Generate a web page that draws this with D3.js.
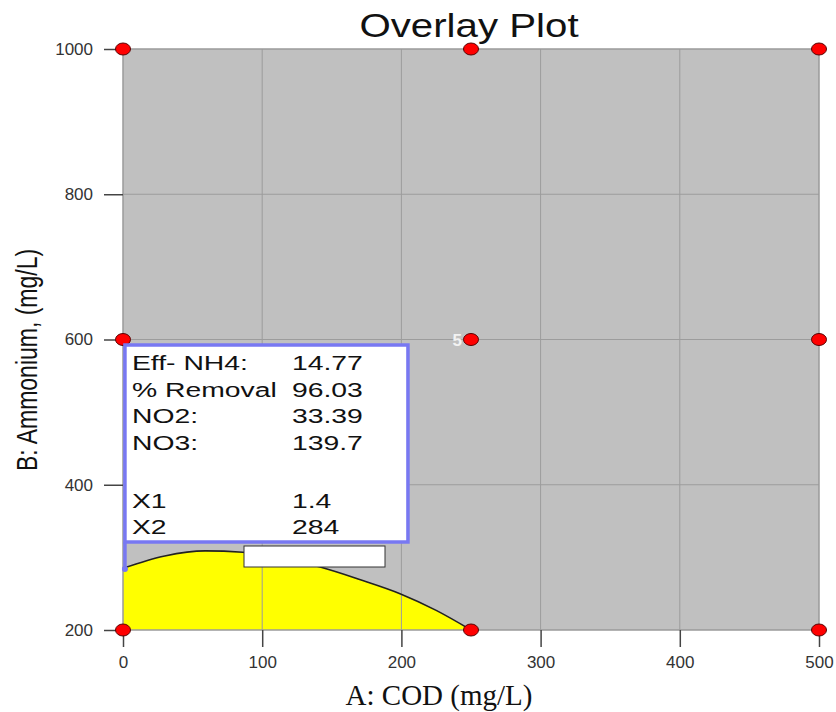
<!DOCTYPE html>
<html>
<head>
<meta charset="utf-8">
<script src="https://cdn.jsdelivr.net/npm/d3@7/dist/d3.min.js"></script>
<style>
  html, body { margin: 0; padding: 0; background: #fff; }
  svg { display: block; }
</style>
</head>
<body>
<svg id="chart" width="836" height="712"></svg>
<script>
// Design points (A: COD, B: Ammonium)
const designA = [0, 0, 0, 250, 250, 250, 500, 500, 500];
const designB = [200, 600, 1000, 200, 600, 1000, 200, 600, 1000];
const centerReplicates = "5";

// Upper edge of the feasible (yellow) window
const boundaryA = [0, 30, 59, 86, 114, 141, 170, 199, 225, 250];
const boundaryB = [285, 302, 309, 307, 299, 287, 269.5, 250, 227, 200];

// Axis ticks
const xTicks = [0, 100, 200, 300, 400, 500];
const yTicks = [200, 400, 600, 800, 1000];

// Flag contents
const flagLabels = ["Eff- NH4:", "% Removal", "NO2:", "NO3:", "", "X1", "X2"];
const flagValues = ["14.77", "96.03", "33.39", "139.7", "", "1.4", "284"];
const flagX1 = 1.4;
const flagX2 = 284;

const svg = d3.select("#chart");
const x = d3.scaleLinear().domain([0, 500]).range([123, 819]);
const y = d3.scaleLinear().domain([200, 1000]).range([630, 49]);

// plot background
svg.append("rect")
  .attr("x", x(0)).attr("y", y(1000))
  .attr("width", x(500) - x(0)).attr("height", y(200) - y(1000))
  .attr("fill", "#c0c0c0");

// feasible region
const pts = boundaryA.map((a, i) => [a, boundaryB[i]]);
svg.append("path")
  .datum(pts)
  .attr("fill", "#ffff00")
  .attr("d", d3.area().x(d => x(d[0])).y0(y(200)).y1(d => y(d[1])).curve(d3.curveMonotoneX));

// grid
const grid = svg.append("g").attr("stroke", "#9c9c9c").attr("stroke-width", 1);
xTicks.slice(1, -1).forEach(t => grid.append("line")
  .attr("x1", x(t)).attr("x2", x(t)).attr("y1", y(1000)).attr("y2", y(200)));
yTicks.slice(1, -1).forEach(t => grid.append("line")
  .attr("x1", x(0)).attr("x2", x(500)).attr("y1", y(t)).attr("y2", y(t)));

// frame
svg.append("rect")
  .attr("x", x(0)).attr("y", y(1000))
  .attr("width", x(500) - x(0)).attr("height", y(200) - y(1000))
  .attr("fill", "none").attr("stroke", "#9a9a9a").attr("stroke-width", 1.5);

// boundary line
svg.append("path")
  .datum(pts)
  .attr("fill", "none").attr("stroke", "#222").attr("stroke-width", 1.6)
  .attr("d", d3.line().x(d => x(d[0])).y(d => y(d[1])).curve(d3.curveMonotoneX));

// axes
const xAxis = svg.append("g")
  .attr("transform", `translate(0,${y(200)})`)
  .call(d3.axisBottom(x).tickValues(xTicks).tickSize(17).tickPadding(6).tickFormat(d3.format("d")));
const yAxis = svg.append("g")
  .attr("transform", `translate(${x(0)},0)`)
  .call(d3.axisLeft(y).tickValues(yTicks).tickSize(19).tickPadding(11).tickFormat(d3.format("d")));
[xAxis, yAxis].forEach(g => {
  g.select(".domain").remove();
  g.selectAll(".tick line").attr("stroke", "#444").attr("stroke-width", 1.5);
  g.selectAll(".tick text")
    .attr("fill", "#333")
    .style("font-family", "'Liberation Sans', Arial, sans-serif")
    .style("font-size", "17px");
});
xAxis.selectAll(".tick text").attr("dy", "0.9em");

// label box under the flag
svg.append("rect")
  .attr("x", 244).attr("y", 546).attr("width", 141).attr("height", 21)
  .attr("fill", "#fff").attr("stroke", "#333").attr("stroke-width", 1);

// design points
svg.append("g").selectAll("ellipse")
  .data(designA.map((a, i) => [a, designB[i]]))
  .join("ellipse")
  .attr("cx", d => x(d[0])).attr("cy", d => y(d[1]))
  .attr("rx", 7.5).attr("ry", 6)
  .attr("fill", "#ff0000").attr("stroke", "#5a0000").attr("stroke-width", 1);

svg.append("text")
  .attr("x", x(250) - 9).attr("y", y(600) + 6)
  .attr("text-anchor", "end")
  .attr("fill", "#f2f2f2")
  .style("font-family", "'Liberation Sans', Arial, sans-serif")
  .style("font-size", "17px").style("font-weight", "bold")
  .text(centerReplicates);

// flag
const ax = x(flagX1), ay = y(flagX2);
const boxL = ax, boxT = 345, boxW = 283, boxH = 197;
svg.append("line")
  .attr("x1", ax).attr("x2", ax).attr("y1", boxT + boxH).attr("y2", ay)
  .attr("stroke", "#7878f2").attr("stroke-width", 3.5);
svg.append("circle").attr("cx", ax).attr("cy", ay).attr("r", 3).attr("fill", "#7878f2");
svg.append("rect")
  .attr("x", boxL).attr("y", boxT).attr("width", boxW).attr("height", boxH)
  .attr("fill", "#fff").attr("stroke", "#7878f2").attr("stroke-width", 3.5);

const flagText = svg.append("g")
  .style("font-family", "'Liberation Sans', Arial, sans-serif")
  .style("font-size", "21px").attr("fill", "#111");
const rowY = i => boxT + 25 + i * 26.5 + (i > 4 ? 5 : 0);
flagLabels.forEach((t, i) => {
  if (!t) return;
  flagText.append("text")
    .attr("transform", `translate(${boxL + 7},${rowY(i)}) scale(1.35,1)`)
    .text(t);
  flagText.append("text")
    .attr("transform", `translate(${boxL + 167},${rowY(i)}) scale(1.35,1)`)
    .text(flagValues[i]);
});

// title
svg.append("text")
  .attr("transform", "translate(469,37) scale(1.22,1)")
  .attr("text-anchor", "middle").attr("fill", "#111")
  .style("font-family", "'Liberation Sans', Arial, sans-serif")
  .style("font-size", "33px")
  .text("Overlay Plot");

// axis titles
svg.append("text")
  .attr("x", 439).attr("y", 705)
  .attr("text-anchor", "middle").attr("fill", "#111")
  .style("font-family", "'Liberation Serif', 'Times New Roman', serif")
  .style("font-size", "29px")
  .text("A: COD (mg/L)");

svg.append("text")
  .attr("transform", "translate(37,360) scale(1.3,1) rotate(-90)")
  .attr("text-anchor", "middle").attr("fill", "#111")
  .style("font-family", "'Liberation Sans', Arial, sans-serif")
  .style("font-size", "23px")
  .text("B: Ammonium, (mg/L)");
</script>
</body>
</html>
